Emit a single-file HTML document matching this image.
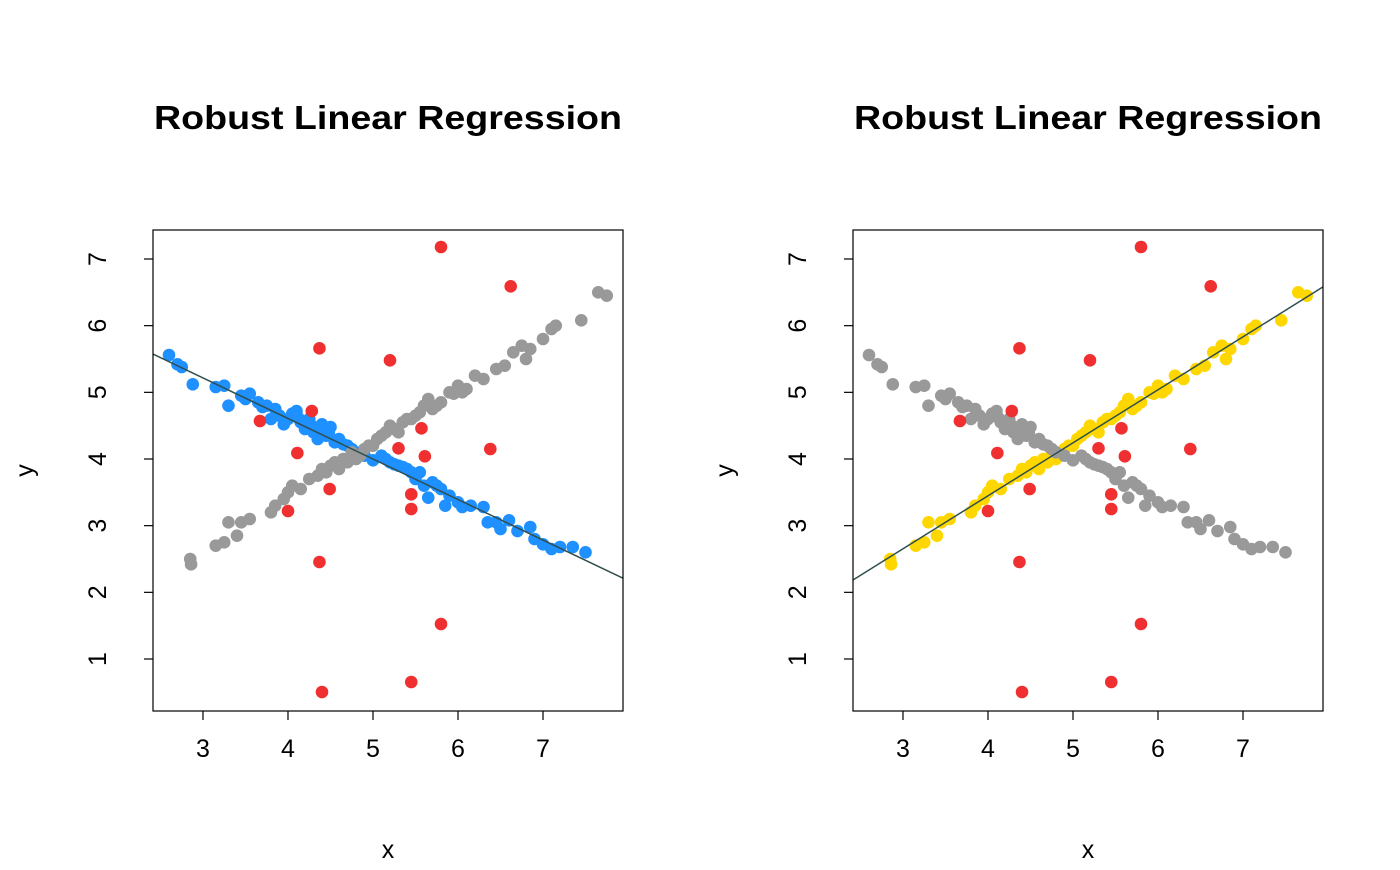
<!DOCTYPE html>
<html><head><meta charset="utf-8">
<style>
html,body{margin:0;padding:0;background:#fff;}
svg text{font-family:"Liberation Sans",Arial,sans-serif;fill:#000;}
</style></head>
<body>
<svg id="chart" width="1400" height="865" xmlns="http://www.w3.org/2000/svg"></svg>
<script>
const blueX=[2.6,2.7,2.75,2.88,3.15,3.25,3.3,3.45,3.5,3.55,3.65,3.7,3.75,3.8,3.85,3.9,3.95,4.0,4.05,4.1,4.15,4.2,4.25,4.3,4.35,4.4,4.45,4.5,4.55,4.6,4.7,4.8,4.9,5.0,5.1,5.15,5.2,5.3,5.4,5.5,5.55,5.6,5.65,5.7,5.8,5.85,5.9,6.0,6.05,6.15,6.3,6.35,6.45,6.5,6.6,6.7,6.85,6.9,7.0,7.1,7.2,7.35,7.5,4.12,4.28,4.38,4.48,4.65,4.75,5.25,5.35,5.45,5.75];
const blueY=[5.56,5.42,5.38,5.12,5.08,5.1,4.8,4.95,4.9,4.98,4.85,4.78,4.8,4.6,4.75,4.65,4.52,4.6,4.68,4.72,4.55,4.45,4.6,4.4,4.3,4.52,4.35,4.48,4.25,4.3,4.2,4.1,4.05,3.98,4.05,4.0,3.95,3.9,3.85,3.7,3.8,3.6,3.42,3.65,3.55,3.3,3.45,3.35,3.28,3.3,3.28,3.05,3.05,2.95,3.08,2.92,2.98,2.8,2.72,2.65,2.68,2.68,2.6,4.62,4.5,4.38,4.4,4.22,4.15,3.92,3.88,3.8,3.6];
const upX=[2.85,2.86,3.15,3.25,3.3,3.4,3.45,3.55,3.8,3.85,3.95,4.0,4.05,4.15,4.25,4.35,4.4,4.5,4.6,4.7,4.75,4.8,4.9,5.0,5.05,5.15,5.2,5.3,5.35,5.45,5.5,5.6,5.65,5.7,5.8,5.9,6.0,6.1,6.2,6.3,6.45,6.55,6.65,6.75,6.85,7.0,7.1,7.15,7.45,7.65,7.75,6.8,5.55,4.85,4.45,4.55,4.65,5.1,5.25,5.4,5.75,5.95,6.05,4.95];
const upY=[2.5,2.42,2.7,2.75,3.05,2.85,3.05,3.1,3.2,3.3,3.4,3.5,3.6,3.55,3.7,3.75,3.85,3.9,3.85,3.95,4.1,4.0,4.15,4.2,4.3,4.4,4.5,4.4,4.55,4.6,4.65,4.8,4.9,4.75,4.85,5.0,5.1,5.05,5.25,5.2,5.35,5.4,5.6,5.7,5.65,5.8,5.95,6.0,6.08,6.5,6.45,5.5,4.7,4.05,3.8,3.95,4.0,4.35,4.45,4.6,4.8,4.98,5.0,4.2];
const redX=[5.80,6.62,4.37,5.20,3.67,4.28,5.57,5.30,6.38,4.11,5.61,4.49,5.45,4.00,5.45,4.37,5.80,4.40,5.45];
const redY=[7.18,6.59,5.66,5.48,4.57,4.72,4.46,4.16,4.15,4.09,4.04,3.55,3.47,3.22,3.25,2.455,1.525,0.505,0.655];
const fitLeft=[7.04,-0.608];
const fitRight=[0.268,0.795];
const xTicks=[3,4,5,6,7];
const yTicks=[1,2,3,4,5,6,7];
const XMIN=2.412,XMAX=7.941,YMIN=0.22,YMAX=7.435;
const svg=document.getElementById('chart');
const NS='http://www.w3.org/2000/svg';
function mk(tag,attrs,parent){const e=document.createElementNS(NS,tag);for(const k in attrs)e.setAttribute(k,attrs[k]);(parent||svg).appendChild(e);return e;}
function panel(ox,name,series,fit){
  const L=ox+153,R=ox+623,T=230,B=711;
  const sx=v=>L+(v-XMIN)/(XMAX-XMIN)*(R-L);
  const sy=v=>B-(v-YMIN)/(YMAX-YMIN)*(B-T);
  const g=mk('g',{});
  
  
  const t=mk('text',{x:(L+R)/2,y:129,'text-anchor':'middle','font-size':'33','font-weight':'bold',textLength:'468',lengthAdjust:'spacingAndGlyphs'},g);
  t.textContent='Robust Linear Regression';
  
  
  const defs=mk('clipPath',{id:'clip'+ox},g);
  mk('rect',{x:L,y:T,width:R-L,height:B-T},defs);
  const pts=mk('g',{'clip-path':'url(#clip'+ox+')'},g);
  series.forEach(s=>{
    s.x.forEach((xv,i)=>{
      const c=mk('circle',{cx:sx(xv),cy:sy(s.y[i]),r:6.3,fill:s.color},pts);
      
      
    });
  });
  const ln=mk('line',{x1:sx(XMIN),y1:sy(fit[0]+fit[1]*XMIN),x2:sx(XMAX),y2:sy(fit[0]+fit[1]*XMAX),stroke:'#2f4f4f','stroke-width':1.5},pts);
  
  
  const box=mk('rect',{x:L,y:T,width:R-L,height:B-T,fill:'none',stroke:'#000','stroke-width':1.2},g);
  
  
  xTicks.forEach(v=>{
    mk('line',{x1:sx(v),x2:sx(v),y1:B,y2:B+9,stroke:'#000','stroke-width':1.2},g);
    const tx=mk('text',{x:sx(v),y:B+46,'text-anchor':'middle','font-size':'25'},g);
    tx.textContent=v;
    
    
  });
  yTicks.forEach(v=>{
    mk('line',{x1:L,x2:L-9,y1:sy(v),y2:sy(v),stroke:'#000','stroke-width':1.2},g);
    const X=L-56,Y=sy(v);
    const ty=mk('text',{x:X+9,y:Y,'text-anchor':'middle','font-size':'25',transform:'rotate(-90 '+(X+9)+' '+Y+')'},g);
    ty.textContent=v;
    
    
  });
  const xl=mk('text',{x:(L+R)/2,y:858,'text-anchor':'middle','font-size':'25'},g);
  xl.textContent='x';
  
  
  const yx=ox+33,yy=(T+B)/2;
  const yl=mk('text',{x:yx,y:yy,'text-anchor':'middle','font-size':'25',transform:'rotate(-90 '+yx+' '+yy+')'},g);
  yl.textContent='y';
  
  
}
panel(0,'left-panel',[
  {x:blueX,y:blueY,color:'#1e90ff',name:'fitted-point'},
  {x:upX,y:upY,color:'#999999',name:'other-point'},
  {x:redX,y:redY,color:'#f03030',name:'outlier-point'}],fitLeft);
panel(700,'right-panel',[
  {x:upX,y:upY,color:'#ffd700',name:'fitted-point'},
  {x:blueX,y:blueY,color:'#999999',name:'other-point'},
  {x:redX,y:redY,color:'#f03030',name:'outlier-point'}],fitRight);
</script>
</body></html>
